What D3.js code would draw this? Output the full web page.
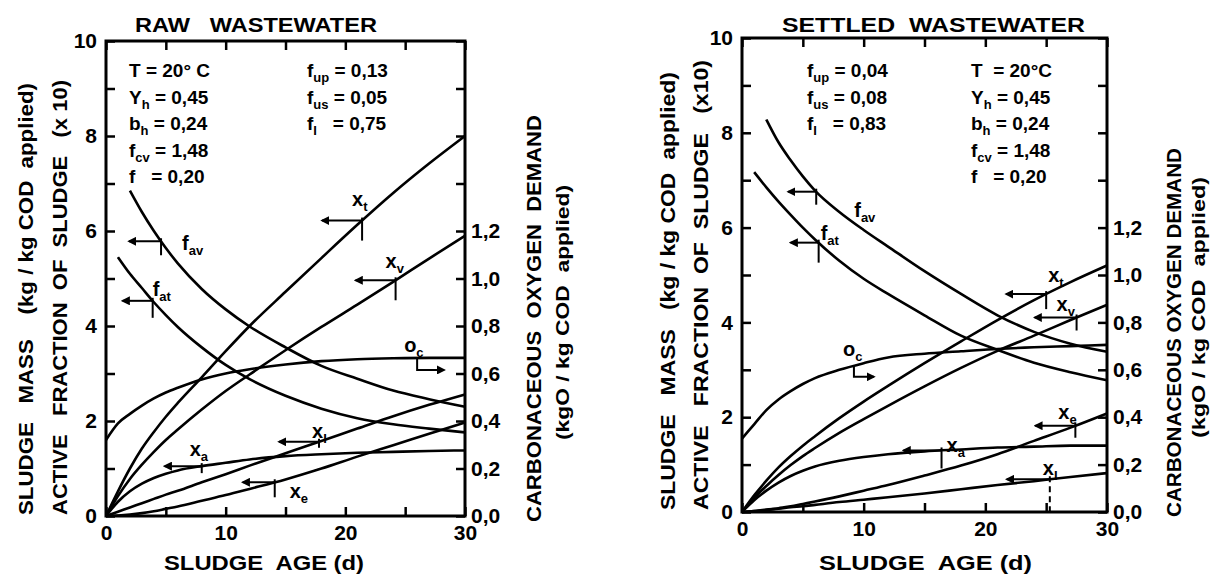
<!DOCTYPE html>
<html>
<head>
<meta charset="utf-8">
<script src="https://cdn.jsdelivr.net/npm/d3@7"></script>
<style>
  body { margin: 0; background: #fff; }
  svg { font-family: 'Liberation Sans', Arial, sans-serif; font-weight: bold; }
  text { white-space: pre; }
</style>
</head>
<body>
<script>
// sludge age (d), shared by every curve
const days = [0, 1, 2, 3, 4, 5, 6, 8, 10, 12, 15, 18, 21, 24, 27, 30]

// RAW wastewater: left axis (kg/kg COD applied, active fraction x10)
const rawFav = [null, null, 6.85, 6.40, 6.00, 5.64, 5.32, 4.78, 4.35, 3.99, 3.55, 3.16, 2.89, 2.64, 2.46, 2.30]
const rawFat = [null, 5.45, 5.10, 4.80, 4.50, 4.23, 3.98, 3.55, 3.18, 2.88, 2.53, 2.26, 2.06, 1.93, 1.84, 1.76]
const rawXt = [0, 0.52, 1.00, 1.42, 1.77, 2.09, 2.38, 2.92, 3.47, 4.00, 4.72, 5.43, 6.13, 6.80, 7.42, 8.00]
const rawXv = [0, 0.42, 0.78, 1.08, 1.35, 1.60, 1.82, 2.24, 2.63, 2.98, 3.49, 3.98, 4.45, 4.93, 5.42, 5.90]
const rawXa = [0, 0.30, 0.52, 0.68, 0.80, 0.89, 0.96, 1.05, 1.12, 1.19, 1.26, 1.30, 1.33, 1.35, 1.37, 1.38]
const rawXi = [0, 0.09, 0.18, 0.27, 0.36, 0.45, 0.53, 0.71, 0.88, 1.06, 1.32, 1.58, 1.84, 2.10, 2.34, 2.56]
const rawXe = [0, 0.01, 0.03, 0.06, 0.10, 0.15, 0.20, 0.32, 0.44, 0.57, 0.77, 1.00, 1.25, 1.49, 1.73, 1.97]
// RAW wastewater: right axis (kgO/kg COD applied)
const rawOc = [0.32, 0.39, 0.43, 0.465, 0.495, 0.52, 0.54, 0.575, 0.60, 0.618, 0.638, 0.652, 0.66, 0.664, 0.666, 0.666]

// SETTLED wastewater: left axis
const setFav = [null, null, 8.28, 7.80, 7.42, 7.08, 6.78, 6.33, 5.95, 5.60, 5.08, 4.60, 4.15, 3.80, 3.55, 3.38]
const setFat = [null, 7.17, 6.85, 6.55, 6.27, 6.00, 5.75, 5.30, 4.92, 4.60, 4.15, 3.72, 3.42, 3.15, 2.95, 2.78]
const setXt = [0, 0.35, 0.66, 0.94, 1.18, 1.40, 1.60, 1.98, 2.33, 2.66, 3.14, 3.60, 4.05, 4.47, 4.85, 5.20]
const setXv = [0, 0.30, 0.55, 0.78, 0.99, 1.18, 1.35, 1.67, 1.96, 2.24, 2.65, 3.04, 3.40, 3.72, 4.05, 4.37]
const setXa = [0, 0.25, 0.45, 0.62, 0.76, 0.87, 0.96, 1.08, 1.16, 1.22, 1.28, 1.32, 1.36, 1.38, 1.40, 1.40]
const setXe = [0, 0.02, 0.04, 0.08, 0.12, 0.17, 0.22, 0.33, 0.45, 0.57, 0.77, 0.98, 1.22, 1.50, 1.78, 2.08]
const setXi = [0, 0.02, 0.05, 0.07, 0.10, 0.12, 0.15, 0.21, 0.26, 0.31, 0.39, 0.48, 0.57, 0.65, 0.74, 0.82]
// SETTLED wastewater: right axis
const setOc = [0.31, 0.37, 0.43, 0.475, 0.51, 0.54, 0.565, 0.60, 0.628, 0.652, 0.668, 0.678, 0.688, 0.695, 0.70, 0.705]

// tick values
const leftTicks = [0, 1, 2, 3, 4, 5, 6, 7, 8, 9, 10]
const leftLabels = [0, 2, 4, 6, 8, 10]
const rightTicks = [0, 0.2, 0.4, 0.6, 0.8, 1.0, 1.2, 1.4, 1.6, 1.8, 2.0]
const rightLabels = [0, 0.2, 0.4, 0.6, 0.8, 1.0, 1.2]
const ageTicks = [0, 5, 10, 15, 20, 25, 30]
const ageLabels = [0, 10, 20, 30]

// parameter notes: [symbol, subscript, rest]
const rawParamsA = [['T', '', ' = 20° C'], ['Y', 'h', ' = 0,45'], ['b', 'h', ' = 0,24'], ['f', 'cv', ' = 1,48'], ['f', '', '   = 0,20']]
const rawParamsB = [['f', 'up', ' = 0,13'], ['f', 'us', ' = 0,05'], ['f', 'I', '   = 0,75']]
const setParamsA = [['f', 'up', ' = 0,04'], ['f', 'us', ' = 0,08'], ['f', 'I', '   = 0,83']]
const setParamsB = [['T', '', '  = 20°C'], ['Y', 'h', ' = 0,45'], ['b', 'h', ' = 0,24'], ['f', 'cv', ' = 1,48'], ['f', '', '   = 0,20']]

;(function () {
  const svg = d3.select('body').append('svg').attr('width', 1220).attr('height', 574)

  svg.append('defs')
    .append('marker')
    .attr('id', 'head')
    .attr('viewBox', '0 0 10 10')
    .attr('refX', 8)
    .attr('refY', 5)
    .attr('markerWidth', 4.5)
    .attr('markerHeight', 4.5)
    .attr('orient', 'auto')
    .append('path')
    .attr('d', 'M0,0L10,5L0,10z')

  const comma = (d) => d3.format('.1f')(d).replace('.', ',')

  class Panel {
    constructor(opts) {
      this.opts = opts
      this.g = svg.append('g')
      this.x = d3.scaleLinear().domain([0, 30]).range(opts.xRange)
      this.y = d3.scaleLinear().domain([0, 10]).range(opts.yRange)
      this.yOc = d3.scaleLinear().domain([0, 2]).range(opts.yRange)
    }

    valueAt(values, day) {
      const pts = days.map((d, i) => [d, values[i]]).filter((p) => p[1] != null)
      const i = d3.bisector((p) => p[0]).left(pts, day)
      if (i <= 0) return pts[0][1]
      if (i >= pts.length) return pts[pts.length - 1][1]
      const [d0, v0] = pts[i - 1]
      const [d1, v1] = pts[i]
      return v0 + ((v1 - v0) * (day - d0)) / (d1 - d0)
    }

    styleAxis(sel) {
      sel.attr('font-size', null).attr('font-family', null)
      sel.select('.domain').remove()
      sel.selectAll('.tick line').attr('stroke', '#000').attr('stroke-width', 2.5)
      sel.selectAll('.tick text').attr('fill', '#000').attr('font-size', 21)
    }

    drawAxes() {
      const { x, y, yOc, g } = this
      const [x0, x1] = this.opts.xRange
      const [y0, y1] = this.opts.yRange

      g.append('g')
        .attr('transform', `translate(${x0},0)`)
        .call(d3.axisLeft(y).tickValues(leftTicks).tickSize(-9).tickPadding(9)
          .tickFormat((d) => (leftLabels.includes(d) ? d : '')))
        .call((s) => this.styleAxis(s))

      g.append('g')
        .attr('transform', `translate(${x1},0)`)
        .call(d3.axisRight(yOc).tickValues(rightTicks).tickSize(-9).tickPadding(6)
          .tickFormat((d) => (rightLabels.some((r) => Math.abs(r - d) < 1e-9) ? comma(d) : '')))
        .call((s) => this.styleAxis(s))

      g.append('g')
        .attr('transform', `translate(0,${y0})`)
        .call(d3.axisBottom(x).tickValues(ageTicks).tickSize(-9).tickPadding(9)
          .tickFormat((d) => (ageLabels.includes(d) ? d : '')))
        .call((s) => this.styleAxis(s))

      g.append('g')
        .attr('transform', `translate(0,${y1})`)
        .call(d3.axisTop(x).tickValues(ageTicks).tickSize(-9).tickFormat(''))
        .call((s) => this.styleAxis(s))

      g.append('rect')
        .attr('x', x0)
        .attr('y', y1)
        .attr('width', x1 - x0)
        .attr('height', y0 - y1)
        .attr('fill', 'none')
        .attr('stroke', '#000')
        .attr('stroke-width', 3)
    }

    drawCurves(series) {
      series.forEach((s) => {
        const yScale = s.right ? this.yOc : this.y
        const line = d3.line()
          .defined((p) => p[1] != null)
          .x((p) => this.x(p[0]))
          .y((p) => yScale(p[1]))
          .curve(d3.curveMonotoneX)
        this.g.append('path')
          .datum(days.map((d, i) => [d, s.values[i]]).filter((p) => p[1] != null))
          .attr('d', line)
          .attr('fill', 'none')
          .attr('stroke', '#000')
          .attr('stroke-width', 2.6)
      })
    }

    label(px, py, main, sub) {
      const t = this.g.append('text').attr('x', px).attr('y', py).attr('font-size', 20)
      t.append('tspan').text(main)
      t.append('tspan').attr('font-size', 13).attr('dy', 5).text(sub)
    }

    drawNotes(notes) {
      notes.forEach((n) => {
        const yScale = n.right ? this.yOc : this.y
        const px = this.x(n.day)
        const py = yScale(this.valueAt(n.values, n.day))
        const path = n.elbow
          ? `M${px},${py}V${py + n.drop}H${px + n.len}`
          : `M${px},${py}H${px - n.len}`
        this.g.append('path')
          .attr('d', path)
          .attr('fill', 'none')
          .attr('stroke', '#000')
          .attr('stroke-width', 2)
          .attr('marker-end', 'url(#head)')
        if (n.tick) {
          this.g.append('line')
            .attr('x1', px).attr('x2', px)
            .attr('y1', py - 3).attr('y2', py + n.tick)
            .attr('stroke', '#000')
            .attr('stroke-width', 2)
            .attr('stroke-dasharray', n.dash ? '6,4' : null)
        }
        this.label(px + n.dx, py + n.dy, n.main, n.sub)
      })
    }

    drawParams(rows, px, py) {
      rows.forEach((r, i) => {
        const t = this.g.append('text')
          .attr('x', px)
          .attr('y', py + i * 26.5)
          .attr('font-size', 19)
        t.append('tspan').text(r[0])
        t.append('tspan').attr('font-size', 13).attr('dy', 5).text(r[1])
        t.append('tspan').attr('dy', r[1] ? -5 : 0).text(r[2])
      })
    }

    drawTitles() {
      const o = this.opts
      this.g.append('text')
        .attr('x', o.title.x)
        .attr('y', 32)
        .attr('font-size', 20)
        .attr('textLength', o.title.len)
        .attr('lengthAdjust', 'spacingAndGlyphs')
        .text(o.title.text)

      this.g.append('text')
        .attr('x', o.ageTitle.x)
        .attr('y', 570)
        .attr('font-size', 20)
        .attr('textLength', o.ageTitle.len)
        .attr('lengthAdjust', 'spacingAndGlyphs')
        .text('SLUDGE  AGE (d)')

      o.sideTitles.forEach((s) => {
        this.g.append('text')
          .attr('transform', `translate(${s.cx},${s.bottom}) rotate(-90)`)
          .attr('dominant-baseline', 'central')
          .attr('font-size', s.size)
          .attr('textLength', s.len)
          .attr('lengthAdjust', 'spacingAndGlyphs')
          .text(s.text)
      })
    }
  }

  const raw = new Panel({
    xRange: [106, 465],
    yRange: [516, 41],
    title: { text: 'RAW   WASTEWATER', x: 135, len: 242 },
    ageTitle: { x: 164, len: 200 },
    sideTitles: [
      { text: 'SLUDGE   MASS    (kg / kg COD  applied)', cx: 25, bottom: 515, len: 432, size: 21 },
      { text: 'ACTIVE   FRACTION  OF  SLUDGE   (x 10)', cx: 59, bottom: 515, len: 435, size: 21 },
      { text: 'CARBONACEOUS  OXYGEN  DEMAND', cx: 533, bottom: 522, len: 407, size: 21 },
      { text: '(kgO / kg COD  applied)', cx: 562, bottom: 440, len: 255, size: 19 },
    ],
  })
  raw.drawAxes()
  raw.drawCurves([
    { values: rawFav }, { values: rawFat }, { values: rawXt }, { values: rawXv },
    { values: rawXa }, { values: rawXi }, { values: rawXe }, { values: rawOc, right: true },
  ])
  raw.drawNotes([
    { values: rawXt, day: 21.4, len: 40, tick: 20, dx: -10, dy: -15, main: 'x', sub: 't' },
    { values: rawXv, day: 24.2, len: 40, tick: 20, dx: -10, dy: -12, main: 'x', sub: 'v' },
    { values: rawFav, day: 4.6, len: 32, tick: 14, dx: 21, dy: 9, main: 'f', sub: 'av' },
    { values: rawFat, day: 3.9, len: 30, tick: 17, dx: 0, dy: -5, main: 'f', sub: 'at' },
    { values: rawXi, day: 17.8, len: 40, tick: 6, dx: -7, dy: -4, main: 'x', sub: 'I' },
    { values: rawXa, day: 8, len: 37, tick: 7, dx: -12, dy: -10, main: 'x', sub: 'a' },
    { values: rawXe, day: 14.1, len: 32, tick: 15, dx: 15, dy: 16, main: 'x', sub: 'e' },
    { values: rawOc, right: true, day: 26, elbow: true, drop: 12, len: 27, dx: -13, dy: -6, main: 'o', sub: 'c' },
  ])
  raw.drawParams(rawParamsA, 129, 77)
  raw.drawParams(rawParamsB, 307, 77)
  raw.drawTitles()

  const settled = new Panel({
    xRange: [742, 1107],
    yRange: [512, 38],
    title: { text: 'SETTLED  WASTEWATER', x: 782, len: 303 },
    ageTitle: { x: 819, len: 213 },
    sideTitles: [
      { text: 'SLUDGE   MASS   (kg / kg COD  applied)', cx: 667, bottom: 510, len: 438, size: 21 },
      { text: 'ACTIVE   FRACTION  OF  SLUDGE   (x10)', cx: 700, bottom: 510, len: 450, size: 21 },
      { text: 'CARBONACEOUS OXYGEN DEMAND', cx: 1173, bottom: 517, len: 369, size: 21 },
      { text: '(kgO / kg COD  applied)', cx: 1198, bottom: 438, len: 261, size: 19 },
    ],
  })
  settled.drawAxes()
  settled.drawCurves([
    { values: setFav }, { values: setFat }, { values: setXt }, { values: setXv },
    { values: setXa }, { values: setXe }, { values: setXi }, { values: setOc, right: true },
  ])
  settled.drawNotes([
    { values: setFav, day: 6.1, len: 28, tick: 13, dx: 38, dy: 25, main: 'f', sub: 'av' },
    { values: setFat, day: 6.3, len: 28, tick: 20, dx: 2, dy: -3, main: 'f', sub: 'at' },
    { values: setXt, day: 25, len: 40, tick: 15, dx: 2, dy: -12, main: 'x', sub: 't' },
    { values: setXv, day: 27.5, len: 42, tick: 13, dx: -20, dy: -7, main: 'x', sub: 'v' },
    { values: setXe, day: 27.4, len: 40, tick: 12, dx: -17, dy: -7, main: 'x', sub: 'e' },
    { values: setXi, day: 25.3, len: 43, tick: 32, dash: true, dx: -7, dy: -4, main: 'x', sub: 'I' },
    { values: setXa, day: 16.4, len: 38, tick: 18, dx: 5, dy: 2, main: 'x', sub: 'a' },
    { values: setOc, right: true, day: 9.2, elbow: true, drop: 11, len: 20, dx: -11, dy: -10, main: 'o', sub: 'c' },
  ])
  settled.drawParams(setParamsA, 807, 77)
  settled.drawParams(setParamsB, 971, 77)
  settled.drawTitles()
})()
</script>
</body>
</html>
